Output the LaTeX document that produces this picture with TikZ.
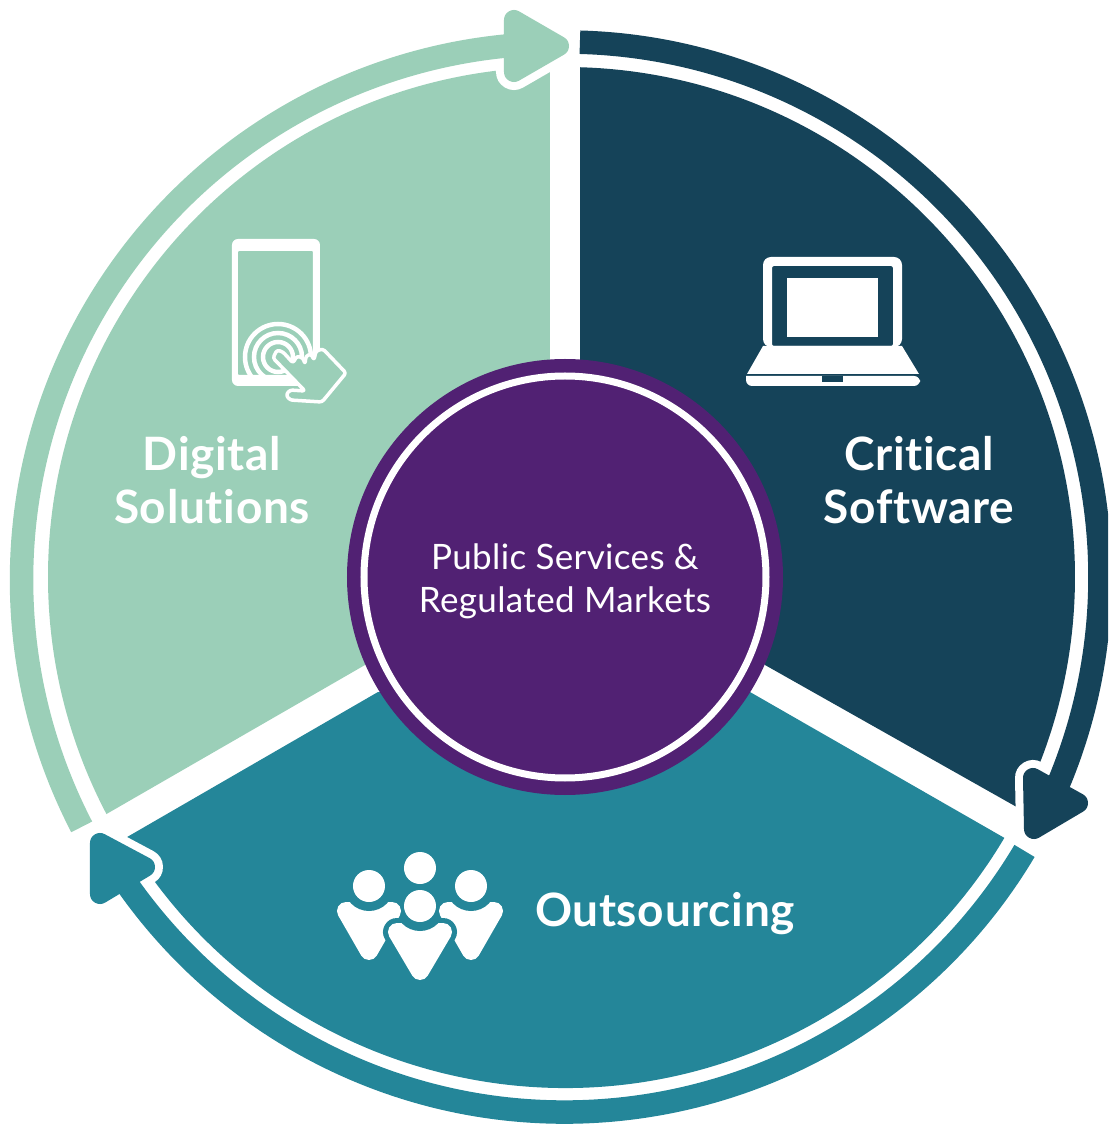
\documentclass[tikz,border=0pt]{standalone}
\usepackage{fontspec}
\setmainfont{Lato}[Ligatures=NoCommon]
\usetikzlibrary{calc}
\usepackage{xcolor}
\definecolor{critcol}{HTML}{154359}
\definecolor{outcol}{HTML}{248699}
\definecolor{digcol}{HTML}{9BCFB8}
\definecolor{hubcol}{HTML}{512173}
\newfontfamily\widefont{Lato}[Ligatures=NoCommon,LetterSpace=1.5]
\newfontfamily\hubfont{Lato}[Ligatures=NoCommon,LetterSpace=1]

\begin{document}
\begin{tikzpicture}[x=1pt,y=1pt,
                ring/.style = {line width=23.5pt},
                halo/.style = {draw=white, fill=white, line width=36pt, line join=round},
                tip/.style = {line width=20pt, line join=round},
                biglabel/.style = {text=white, font=\widefont\fontsize{46}{53}\selectfont\bfseries, align=center},
                smalllabel/.style = {text=white, font=\hubfont\fontsize{35}{43}\selectfont, align=center}
                ]
                \clip (-565,-547) rectangle (543,577);
                % sectors
                \fill[critcol] (15,200) -- (88.3:510) arc[start angle=88.3, end angle=-27, radius=510] -- (200,-88) -- cycle;
                \fill[outcol] (-187,-115) -- (210.7:511) arc[start angle=210.7, end angle=329.3, radius=511] -- (185,-115) -- cycle;
                \fill[digcol] (-15,200) -- ($(-7,0)+(90.9:510)$) arc[start angle=90.9, end angle=207.7, radius=510] -- (-200,-88) -- cycle;

                \begin{scope}[shift={(-565,577)},y=-1pt]
                    % white round the heads
                    \path[halo] (514,20) -- (514,72) -- (559,46) -- cycle;
                    \path[halo] (1033,778) -- (1034,829) -- (1078,803) -- cycle;
                    \path[halo] (100,843) -- (100,894) -- (145,867) -- cycle;
                \end{scope}

                % rings
                \draw[ring, critcol] (88.4:535) arc[start angle=88.4, end angle=-24, radius=535];
                \draw[ring, outcol] (-30.8:535) arc[start angle=-30.8, end angle=-147, radius=535];
                \draw[ring, digcol] ($(-7,-3)+(207.4:536.5)$) arc[start angle=207.4, end angle=94, radius=536.5];

                \begin{scope}[shift={(-565,577)},y=-1pt]
                    \filldraw[tip, draw=digcol, fill=digcol] (514,20) -- (514,72) -- (559,46) -- cycle;
                    \filldraw[tip, draw=critcol, fill=critcol] (1033,778) -- (1034,829) -- (1078,803) -- cycle;
                    \filldraw[tip, draw=outcol, fill=outcol] (100,843) -- (100,894) -- (145,867) -- cycle;

                    % tablet
                    \begin{scope}
                        \clip (238,251) rectangle (313,376);
                        \foreach \r in {15,24,33}
                            \draw[white, line width=4.5pt] (278,357) circle[radius=\r];
                    \end{scope}
                    \fill[white, even odd rule] [rounded corners=6pt] (232,239) rectangle (320,386)
                        [rounded corners=1pt] (238,251) rectangle (313,375);
                    \filldraw[draw=white, fill=digcol, line width=3.5pt, line join=round, rounded corners=2.5pt]
                        (277,350) -- (283,352) -- (293,363) -- (297,356) -- (303,358) -- (305,364) -- (306,356)
                        -- (311,354) -- (314,360) -- (316,351) -- (323,349) -- (346,373) -- (322,402)
                        -- (290,400) -- (286,395) -- (290,390) -- (305,391) -- (273,358) -- cycle;

                    % laptop
                    \fill[white, even odd rule] [rounded corners=8pt] (763,347) -- (763,257) -- (902,257) -- (902,347) -- cycle
                        [rounded corners=2pt] (772,346) -- (772,266) -- (893,266) -- (893,346) -- cycle;
                    \fill[white] (787,278) rectangle (878,337);
                    \fill[white] (763,346) -- (902,346) -- (919,374) -- (747,374) -- cycle;
                    \fill[white] [rounded corners=6pt] (746,376) -- (746,386) -- (920,386) -- (920,376) [sharp corners] -- cycle;
                    \fill[critcol] (822,376) rectangle (843,382);

                    % people
                    \foreach \x in {369,471} {
                        \filldraw[tip, draw=white, fill=white, line width=18pt] (\x-23,911) -- (\x+23,911) -- (\x,951) -- cycle;
                        \fill[outcol] (\x,886) circle[radius=25];
                        \fill[white] (\x,886) circle[radius=16];
                    }
                    \filldraw[tip, draw=outcol, fill=outcol, line width=28pt] (397,932) -- (443,932) -- (420,971) -- cycle;
                    \filldraw[tip, draw=white, fill=white, line width=18pt] (397,932) -- (443,932) -- (420,971) -- cycle;
                    \begin{scope}
                        \clip (385,921) rectangle (455,940);
                        \fill[outcol] (420,906) circle[radius=25];
                    \end{scope}
                    \fill[white] (420,906) circle[radius=16];
                    \fill[white] (420,868) circle[radius=16];

                    % labels
                    \node[biglabel] (digital) at (212,480.5) {Digital\\Solutions};
                    \node[biglabel] (critical) at (919,480.5) {Critical\\Software};
                    \node[biglabel] (outsourcing) at (665,914) {Outsourcing};
                \end{scope}

                % hub
                \node[circle, fill=hubcol, minimum size=436pt, inner sep=0pt] (hub) at (0,0) {};
                \draw[white, line width=7pt] (hub.center) circle[radius=201];
                \node[smalllabel] (markets) at (0,-4) {Public Services \&\\Regulated Markets};
            \end{tikzpicture}
\end{document}
